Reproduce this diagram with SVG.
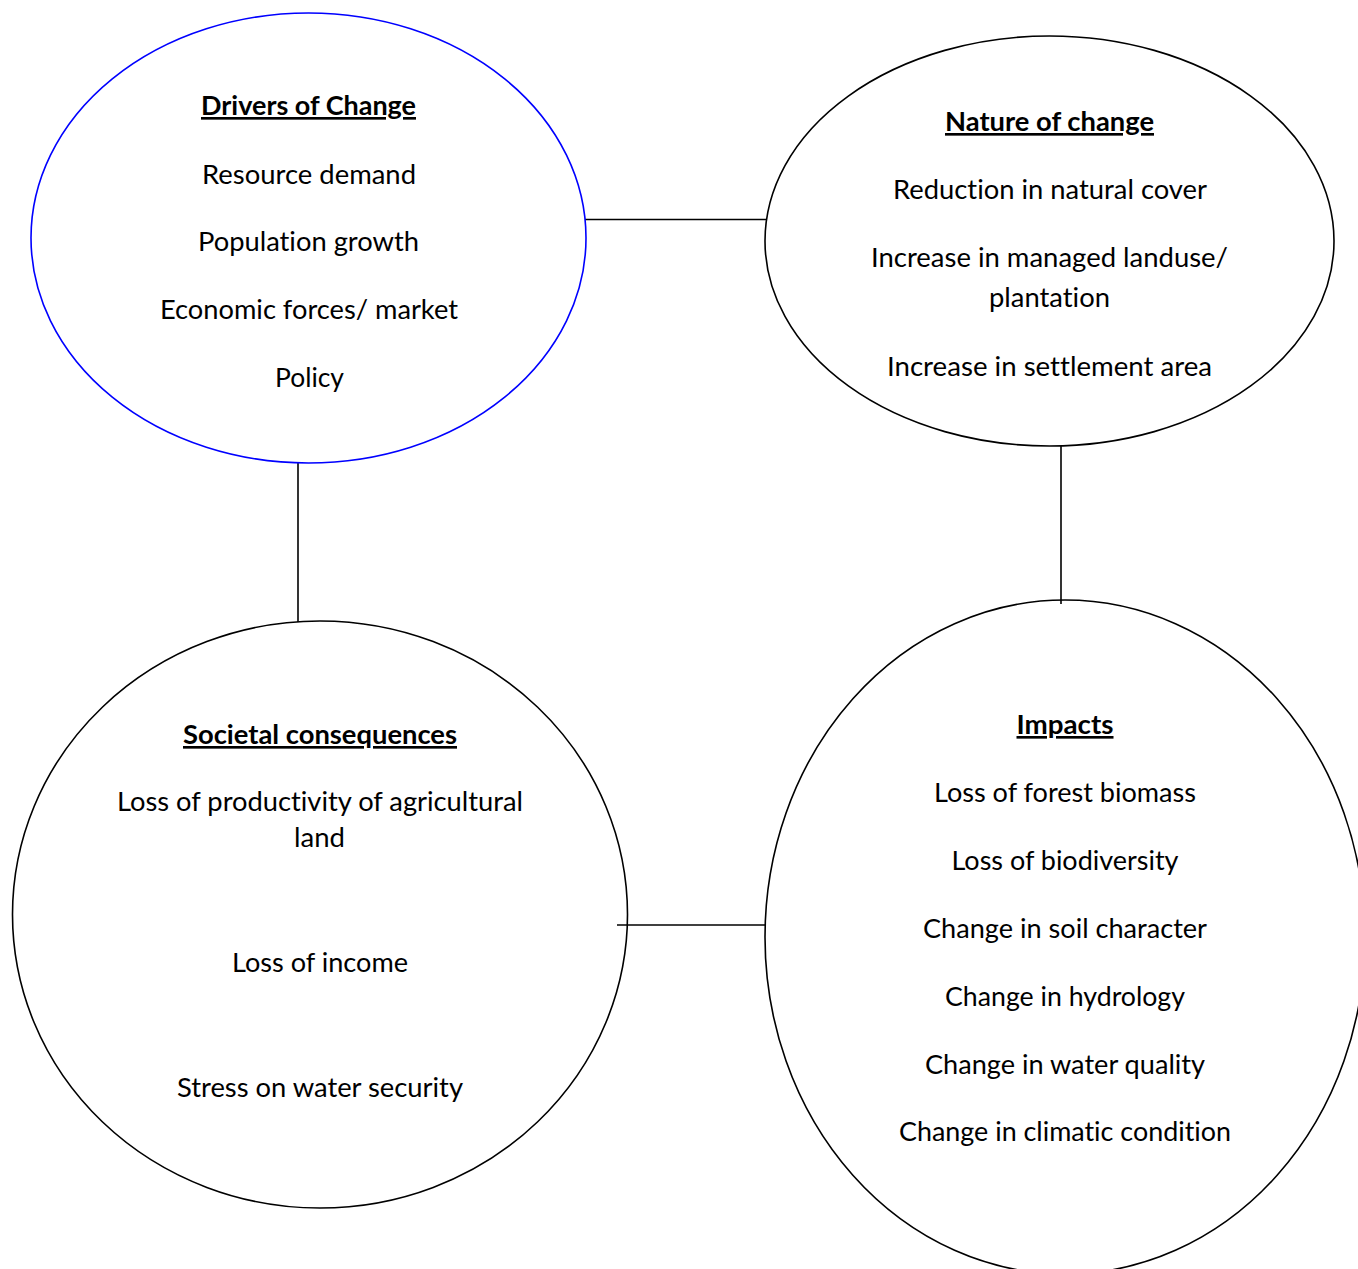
<svg xmlns="http://www.w3.org/2000/svg" width="1358" height="1269" viewBox="0 0 1358 1269">
<style>
.node{fill:none;stroke:#000;stroke-width:1.6}
.blue{stroke:#0000ff}
.conn line{stroke:#000;stroke-width:1.6}
text{font-family:Lato,"Open Sans","Liberation Sans",sans-serif;font-size:26.5px;fill:#000;text-anchor:middle;font-variant-ligatures:none;font-feature-settings:"liga" 0,"clig" 0}
.h{font-weight:bold;text-decoration:underline}
</style>
<rect width="1358" height="1269" fill="#fff"/>
<g id="connectors" class="conn">
<line x1="585" y1="219.5" x2="767" y2="219.5"/>
<line x1="298" y1="463" x2="298" y2="622"/>
<line x1="1061" y1="446" x2="1061" y2="604"/>
<line x1="617" y1="925" x2="766" y2="925"/>
</g>
<g id="drivers">
<ellipse class="node blue" cx="308.5" cy="238" rx="277.5" ry="225"/>
<text class="h" x="308.5" y="115" textLength="215" lengthAdjust="spacingAndGlyphs">Drivers of Change</text>
<text x="309" y="184" textLength="214" lengthAdjust="spacingAndGlyphs">Resource demand</text>
<text x="308.5" y="251" textLength="221" lengthAdjust="spacingAndGlyphs">Population growth</text>
<text x="309" y="319" textLength="298" lengthAdjust="spacingAndGlyphs">Economic forces/ market</text>
<text x="309.5" y="387" textLength="69" lengthAdjust="spacingAndGlyphs">Policy</text>
</g>
<g id="nature">
<ellipse class="node" cx="1049.5" cy="241" rx="284.5" ry="205"/>
<text class="h" x="1049.5" y="131" textLength="209" lengthAdjust="spacingAndGlyphs">Nature of change</text>
<text x="1050" y="199" textLength="314" lengthAdjust="spacingAndGlyphs">Reduction in natural cover</text>
<text x="1049.5" y="267" textLength="357" lengthAdjust="spacingAndGlyphs">Increase in managed landuse/</text>
<text x="1049.5" y="307" textLength="121" lengthAdjust="spacingAndGlyphs">plantation</text>
<text x="1049.5" y="376" textLength="325" lengthAdjust="spacingAndGlyphs">Increase in settlement area</text>
</g>
<g id="societal">
<ellipse class="node" cx="320" cy="914.5" rx="307.5" ry="293.5"/>
<text class="h" x="320" y="744" textLength="274" lengthAdjust="spacingAndGlyphs">Societal consequences</text>
<text x="320" y="811" textLength="406" lengthAdjust="spacingAndGlyphs">Loss of productivity of agricultural</text>
<text x="319.5" y="847" textLength="51" lengthAdjust="spacingAndGlyphs">land</text>
<text x="320" y="972" textLength="176" lengthAdjust="spacingAndGlyphs">Loss of income</text>
<text x="320" y="1097" textLength="286" lengthAdjust="spacingAndGlyphs">Stress on water security</text>
</g>
<g id="impacts">
<ellipse class="node" cx="1065" cy="937" rx="300" ry="337"/>
<text class="h" x="1065" y="734" textLength="97" lengthAdjust="spacingAndGlyphs">Impacts</text>
<text x="1065" y="802" textLength="262" lengthAdjust="spacingAndGlyphs">Loss of forest biomass</text>
<text x="1065" y="870" textLength="227" lengthAdjust="spacingAndGlyphs">Loss of biodiversity</text>
<text x="1065" y="938" textLength="284" lengthAdjust="spacingAndGlyphs">Change in soil character</text>
<text x="1065" y="1006" textLength="240" lengthAdjust="spacingAndGlyphs">Change in hydrology</text>
<text x="1065" y="1074" textLength="280" lengthAdjust="spacingAndGlyphs">Change in water quality</text>
<text x="1065" y="1141" textLength="332" lengthAdjust="spacingAndGlyphs">Change in climatic condition</text>
</g>
</svg>
